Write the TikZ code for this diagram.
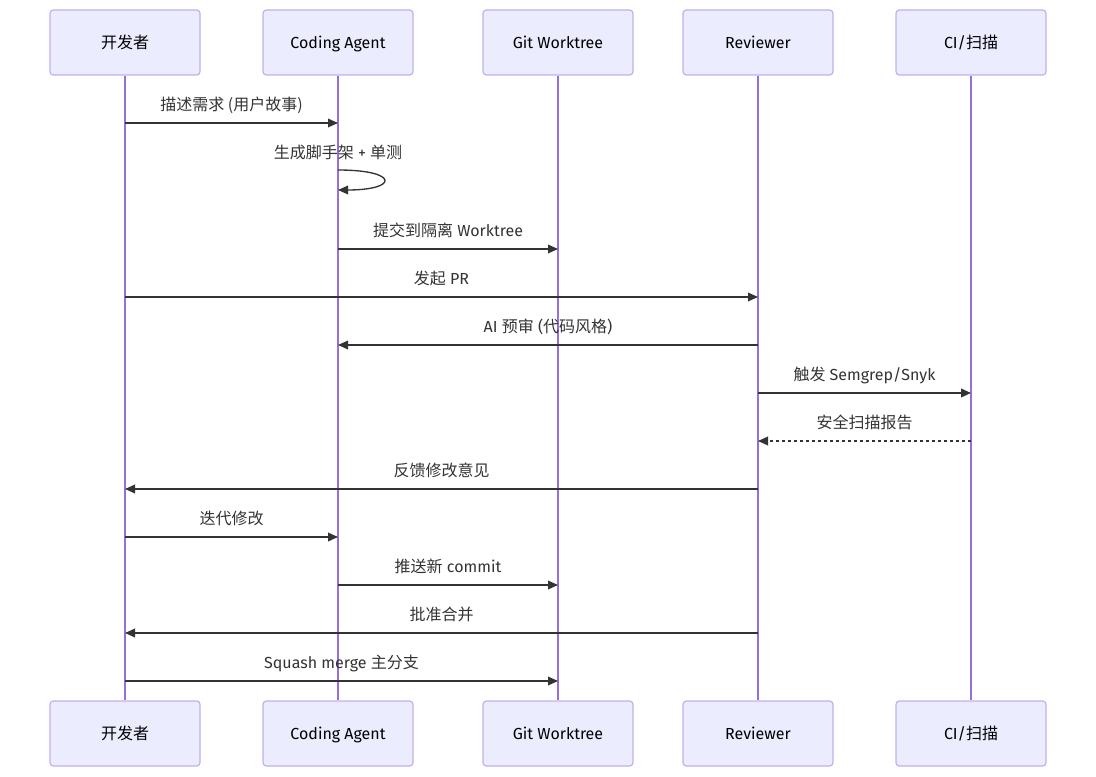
\documentclass[tikz,border=0pt]{standalone}
\usepackage{fontspec}
\setmainfont{Fira Sans}
\newfontfamily\cjk{Noto Sans CJK SC}
\usetikzlibrary{arrows.meta, positioning}
\definecolor{actorfill}{HTML}{ECECFF}
\definecolor{actorline}{HTML}{C2B0EE}
\definecolor{lifeline}{HTML}{9370DB}
\definecolor{msggray}{HTML}{333333}

\begin{document}
\begin{tikzpicture}[x=0.75pt, y=-0.75pt,
    actor/.style={draw=actorline, fill=actorfill, line width=0.9pt, rounded corners=2.5pt,
        minimum width=112.5pt, minimum height=48.75pt, text height=12pt, text depth=2.5pt,
        font=\fontsize{12}{14}\selectfont},
    life/.style={draw=lifeline, line width=1.3pt},
    msg/.style={draw=msggray, line width=1pt, -{Triangle[length=7.5pt, width=6.5pt]}},
    reply/.style={msg, dash pattern=on 2.25pt off 2.25pt},
    lbl/.style={font=\fontsize{12}{14}\selectfont, text=msggray, inner sep=0pt,
        text height=9pt, text depth=2.5pt}
]
    \useasboundingbox (0,0) rectangle (1096,777);

    % Teilnehmer oben und unten
    \foreach \name/\x/\txt in {dev/125/{\cjk 开发者}, agent/338/Coding Agent,
        git/558/Git Worktree, rev/758/Reviewer, ci/971/{CI/{\cjk 扫描}}} {
        \node[actor] (\name) at (\x,42.5) {\txt};
        \node[actor] (\name-b) at (\x,733.5) {\txt};
        \draw[life] (\name.south) -- (\name-b.north);
    }

    % Hoehen der Nachrichten
    \foreach \i/\y in {1/123, 2/170, 3/249, 4/297, 5/345, 6/393, 7/441,
        8/489, 9/537, 10/585, 11/633, 12/681, 20/190, 21/154} {
        \coordinate (m\i) at (0,\y);
    }

    % Nachrichten
    \draw[msg] (dev |- m1) -- (agent |- m1)
        node[lbl, midway, yshift=12.75pt] {\cjk 描述需求 (用户故事)};

    \node[lbl] (selflbl) at (agent |- m21) {{\cjk 生成脚手架} + {\cjk 单测}};
    \draw[msg] (agent |- m2) .. controls (399,170) and (399,190) .. (agent |- m20);

    \draw[msg] (agent |- m3) -- (git |- m3)
        node[lbl, midway, yshift=12.75pt] {{\cjk 提交到隔离} Worktree};
    \draw[msg] (dev |- m4) -- (rev |- m4)
        node[lbl, midway, yshift=12.75pt] {{\cjk 发起} PR};
    \draw[msg] (rev |- m5) -- (agent |- m5)
        node[lbl, midway, yshift=12.75pt] {AI {\cjk 预审} ({\cjk 代码风格})};
    \draw[msg] (rev |- m6) -- (ci |- m6)
        node[lbl, midway, yshift=12.75pt] {{\cjk 触发} Semgrep/Snyk};
    \draw[reply] (ci |- m7) -- (rev |- m7)
        node[lbl, midway, yshift=12.75pt] {\cjk 安全扫描报告};
    \draw[msg] (rev |- m8) -- (dev |- m8)
        node[lbl, midway, yshift=12.75pt] {\cjk 反馈修改意见};
    \draw[msg] (dev |- m9) -- (agent |- m9)
        node[lbl, midway, yshift=12.75pt] {\cjk 迭代修改};
    \draw[msg] (agent |- m10) -- (git |- m10)
        node[lbl, midway, yshift=12.75pt] {{\cjk 推送新} commit};
    \draw[msg] (rev |- m11) -- (dev |- m11)
        node[lbl, midway, yshift=12.75pt] {\cjk 批准合并};
    \draw[msg] (dev |- m12) -- (git |- m12)
        node[lbl, midway, yshift=12.75pt] {Squash merge {\cjk 主分支}};
\end{tikzpicture}
\end{document}
